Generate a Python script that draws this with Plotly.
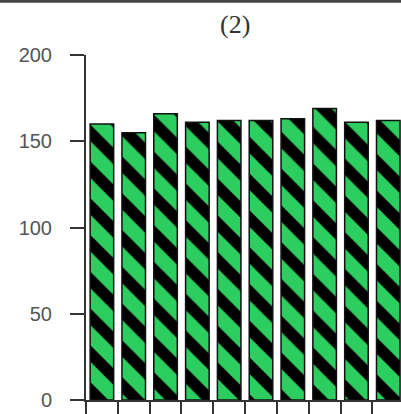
import plotly.graph_objects as go

categories = [str(i) for i in range(1, 11)]
values = [160, 155, 166, 161, 162, 162, 163, 169, 161, 162]
y_ticks = [0, 50, 100, 150, 200]
title_text = "(2)"

fig = go.Figure()
fig.add_trace(go.Bar(
    x=categories,
    y=values,
    width=0.74,
    marker=dict(
        color="#2dce60",
        line=dict(color="#111111", width=1.5),
        pattern=dict(shape="\\", fgcolor="#000000", bgcolor="#2dce60",
                     fgopacity=1, size=26, solidity=0.45, fillmode="replace"),
    ),
    hoverinfo="skip",
))

fig.update_layout(
    width=401, height=414,
    margin=dict(l=86, r=0, t=55, b=12),
    paper_bgcolor="white", plot_bgcolor="white",
    showlegend=False,
    bargap=0.26,
    xaxis=dict(
        type="category",
        range=[-0.5, 9.4],
        showticklabels=False,
        ticks="outside", ticklen=14, tickwidth=1.5, tickcolor="#333333",
        tickson="boundaries",
        showline=True, linecolor="#333333", linewidth=2,
        showgrid=False, zeroline=False,
    ),
    yaxis=dict(
        range=[0, 200],
        tickvals=y_ticks,
        ticks="outside", ticklen=14, tickwidth=2, tickcolor="#333333",
        ticklabelstandoff=14,
        showline=True, linecolor="#333333", linewidth=2,
        showgrid=False, zeroline=False,
        tickfont=dict(family="Liberation Sans", size=20, color="#555555"),
    ),
    annotations=[dict(
        text=title_text, xref="paper", yref="paper",
        x=(235 - 86) / 315, y=1 + (55 - 24) / 347,
        xanchor="center", yanchor="middle", showarrow=False,
        font=dict(family="Liberation Serif", size=26, color="#333333"),
    )],
    shapes=[dict(
        type="line", xref="paper", yref="paper",
        x0=-0.5, x1=1.5, y0=1 + 54 / 347, y1=1 + 54 / 347,
        line=dict(color="#444444", width=3),
    )],
)

fig.write_html("out.html")
